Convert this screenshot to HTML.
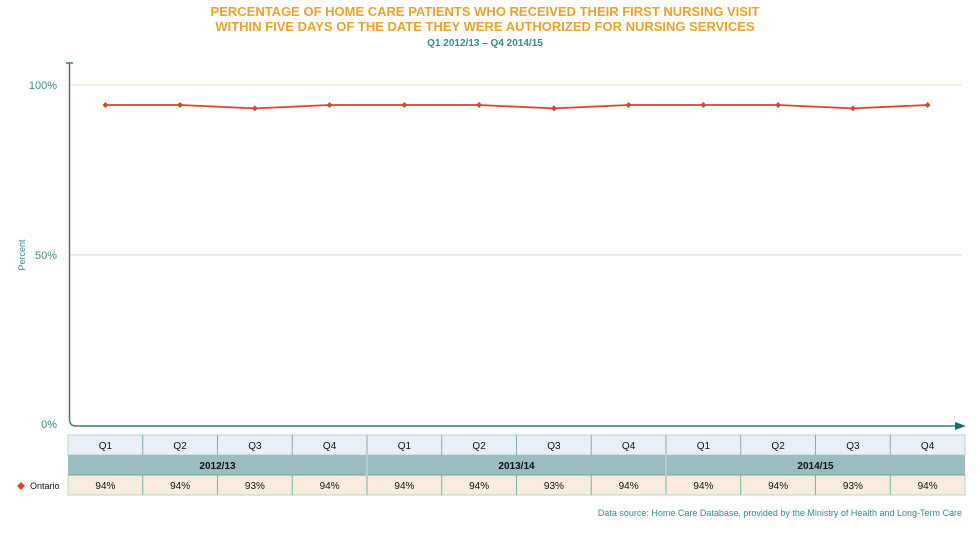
<!DOCTYPE html>
<html><head><meta charset="utf-8"><style>
body{margin:0;background:#fff;width:980px;height:535px;overflow:hidden}
svg{display:block;font-family:"Liberation Sans",Arial,sans-serif}
</style></head><body>
<svg width="980" height="535" viewBox="0 0 980 535">
<text x="485" y="16" text-anchor="middle" font-size="13" font-weight="bold" fill="#eca128">PERCENTAGE OF HOME CARE PATIENTS WHO RECEIVED THEIR FIRST NURSING VISIT</text>
<text x="485" y="31" text-anchor="middle" font-size="13" font-weight="bold" fill="#eca128">WITHIN FIVE DAYS OF THE DATE THEY WERE AUTHORIZED FOR NURSING SERVICES</text>
<text x="485" y="46" text-anchor="middle" font-size="10" font-weight="bold" fill="#3a8a8c">Q1 2012/13 – Q4 2014/15</text>
<line x1="70" y1="85" x2="962" y2="85" stroke="#f6e0b8" stroke-width="1"/>
<line x1="70" y1="255" x2="962" y2="255" stroke="#ddd6c8" stroke-width="1"/>
<text x="57" y="89" text-anchor="end" font-size="11" fill="#3a8a8c">100%</text>
<text x="57" y="259" text-anchor="end" font-size="11" fill="#3a8a8c">50%</text>
<text x="57" y="428" text-anchor="end" font-size="11" fill="#3a8a8c">0%</text>
<text transform="translate(25,255) rotate(-90)" text-anchor="middle" font-size="9" fill="#3a8a8c">Percent</text>
<path d="M66 63 H73 M69.5 63 V419 Q69.5 426 76 426 H958" fill="none" stroke="#3f7a82" stroke-width="1.5"/>
<polygon points="955,422 966,426 955,430" fill="#1f6872"/>
<polyline fill="none" stroke="#d5482a" stroke-width="1.8" points="105.4,105 180.1,105 254.9,108.4 329.6,105 404.4,105 479.1,105 553.9,108.4 628.6,105 703.4,105 778.1,105 852.9,108.4 927.6,105"/>
<g fill="#d5482a">
<path d="M105.4 102l3 3-3 3-3-3z"/><path d="M180.1 102l3 3-3 3-3-3z"/><path d="M254.9 105.4l3 3-3 3-3-3z"/><path d="M329.6 102l3 3-3 3-3-3z"/>
<path d="M404.4 102l3 3-3 3-3-3z"/><path d="M479.1 102l3 3-3 3-3-3z"/><path d="M553.9 105.4l3 3-3 3-3-3z"/><path d="M628.6 102l3 3-3 3-3-3z"/>
<path d="M703.4 102l3 3-3 3-3-3z"/><path d="M778.1 102l3 3-3 3-3-3z"/><path d="M852.9 105.4l3 3-3 3-3-3z"/><path d="M927.6 102l3 3-3 3-3-3z"/>
</g>
<rect x="68" y="435" width="897" height="20" fill="#e9eff6" stroke="#b5d3d6"/>
<rect x="68" y="455" width="897" height="20" fill="#9abcc2"/>
<rect x="68" y="475" width="897" height="20" fill="#f8ecdc" stroke="#b5d3d6"/>
<g stroke="#7fb0b4" stroke-width="1">
<line x1="142.75" y1="435" x2="142.75" y2="455"/><line x1="217.5" y1="435" x2="217.5" y2="455"/><line x1="292.25" y1="435" x2="292.25" y2="455"/>
<line x1="441.75" y1="435" x2="441.75" y2="455"/><line x1="516.5" y1="435" x2="516.5" y2="455"/><line x1="591.25" y1="435" x2="591.25" y2="455"/>
<line x1="740.75" y1="435" x2="740.75" y2="455"/><line x1="815.5" y1="435" x2="815.5" y2="455"/><line x1="890.25" y1="435" x2="890.25" y2="455"/>
<line x1="142.75" y1="475" x2="142.75" y2="495"/><line x1="217.5" y1="475" x2="217.5" y2="495"/><line x1="292.25" y1="475" x2="292.25" y2="495"/>
<line x1="441.75" y1="475" x2="441.75" y2="495"/><line x1="516.5" y1="475" x2="516.5" y2="495"/><line x1="591.25" y1="475" x2="591.25" y2="495"/>
<line x1="740.75" y1="475" x2="740.75" y2="495"/><line x1="815.5" y1="475" x2="815.5" y2="495"/><line x1="890.25" y1="475" x2="890.25" y2="495"/>
<line x1="68" y1="475" x2="965" y2="475" stroke="#6fa3a8"/>
</g>
<g stroke="#b5cfd0" stroke-width="2">
<line x1="367" y1="435" x2="367" y2="495"/><line x1="666" y1="435" x2="666" y2="495"/>
</g>
<g font-size="10" fill="#111" text-anchor="middle">
<text x="105.4" y="449">Q1</text><text x="180.1" y="449">Q2</text><text x="254.9" y="449">Q3</text><text x="329.6" y="449">Q4</text>
<text x="404.4" y="449">Q1</text><text x="479.1" y="449">Q2</text><text x="553.9" y="449">Q3</text><text x="628.6" y="449">Q4</text>
<text x="703.4" y="449">Q1</text><text x="778.1" y="449">Q2</text><text x="852.9" y="449">Q3</text><text x="927.6" y="449">Q4</text>
<text x="217.5" y="469" font-weight="bold">2012/13</text><text x="516.5" y="469" font-weight="bold">2013/14</text><text x="815.5" y="469" font-weight="bold">2014/15</text>
<text x="105.4" y="489">94%</text><text x="180.1" y="489">94%</text><text x="254.9" y="489">93%</text><text x="329.6" y="489">94%</text>
<text x="404.4" y="489">94%</text><text x="479.1" y="489">94%</text><text x="553.9" y="489">93%</text><text x="628.6" y="489">94%</text>
<text x="703.4" y="489">94%</text><text x="778.1" y="489">94%</text><text x="852.9" y="489">93%</text><text x="927.6" y="489">94%</text>
</g>
<polygon points="21,482 25,486 21,490 17,486" fill="#d5482a"/>
<text x="30" y="489" font-size="9" fill="#111">Ontario</text>
<text x="962" y="516" text-anchor="end" font-size="9" fill="#3a8a8c">Data source: Home Care Database, provided by the Ministry of Health and Long-Term Care</text>
</svg>
</body></html>
